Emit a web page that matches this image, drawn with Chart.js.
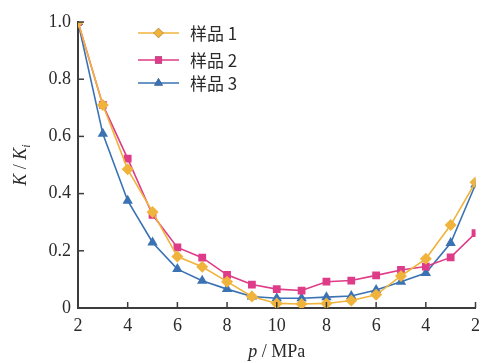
<!DOCTYPE html>
<html>
<head>
<meta charset="utf-8">
<script src="https://cdn.jsdelivr.net/npm/chart.js@4"></script>
<style>
  html, body { margin: 0; padding: 0; background: #fff; }
  #wrap { width: 487px; height: 363px; }
</style>
</head>
<body>
<div id="wrap"><canvas id="chart"></canvas></div>
<script>
// pressure path: up to 10 MPa then back down
const pressures = [2, 3, 4, 5, 6, 7, 8, 9, 10, 9, 8, 7, 6, 5, 4, 3, 2];
const sample1 = [1.0, 0.71, 0.485, 0.336, 0.18, 0.144, 0.092, 0.04, 0.016, 0.014, 0.016, 0.026, 0.046, 0.112, 0.172, 0.29, 0.44];
const sample2 = [1.0, 0.71, 0.522, 0.326, 0.212, 0.176, 0.116, 0.082, 0.066, 0.061, 0.092, 0.096, 0.114, 0.133, 0.145, 0.177, 0.262];
const sample3 = [1.0, 0.609, 0.375, 0.229, 0.136, 0.095, 0.066, 0.04, 0.034, 0.034, 0.038, 0.042, 0.063, 0.092, 0.122, 0.227, 0.432];
const seriesNames = ["样品 1", "样品 2", "样品 3"];
const yTicks = [0, 0.2, 0.4, 0.6, 0.8, 1.0];

const colors = ["#f0b43c", "#de3b88", "#3a72b3"];
const markers = ["rectRot", "rect", "triangle"];
const serif = "'Liberation Serif', 'DejaVu Serif', serif";
const axisColor = "#3c3c3c";
const textColor = "#2a2a2a";

const toPoints = (arr) => arr.map((v, i) => ({ x: i, y: v }));

const makeSet = (label, values, i) => ({
  label,
  data: toPoints(values),
  borderColor: colors[i],
  backgroundColor: colors[i],
  borderWidth: 1.6,
  pointStyle: markers[i],
  pointRadius: i === 1 ? 5.5 : 6,
  pointBorderWidth: 0,
  tension: 0,
});

// inward tick marks, axis titles and the legend
const decorations = {
  id: "decorations",
  afterDraw(chart) {
    const { ctx, chartArea: a, scales } = chart;
    ctx.save();
    ctx.strokeStyle = axisColor;
    ctx.lineWidth = 1.5;
    scales.x.ticks.forEach((t) => {
      const px = scales.x.getPixelForValue(t.value);
      ctx.beginPath();
      ctx.moveTo(px, a.bottom);
      ctx.lineTo(px, a.bottom - 6);
      ctx.stroke();
    });
    yTicks.forEach((v) => {
      const py = scales.y.getPixelForValue(v);
      ctx.beginPath();
      ctx.moveTo(a.left, py);
      ctx.lineTo(a.left + 6, py);
      ctx.stroke();
    });

    // x title: p / MPa
    ctx.fillStyle = textColor;
    ctx.textBaseline = "alphabetic";
    const xMid = (a.left + a.right) / 2;
    ctx.font = "italic 18px " + serif;
    const pW = ctx.measureText("p").width;
    ctx.font = "18px " + serif;
    const restW = ctx.measureText(" / MPa").width;
    let sx = xMid - (pW + restW) / 2;
    ctx.font = "italic 18px " + serif;
    ctx.fillText("p", sx, 357);
    ctx.font = "18px " + serif;
    ctx.fillText(" / MPa", sx + pW, 357);

    // y title: K / K_i (rotated)
    ctx.translate(26, (a.top + a.bottom) / 2);
    ctx.rotate(-Math.PI / 2);
    ctx.font = "italic 18px " + serif;
    const kW = ctx.measureText("K").width;
    ctx.font = "18px " + serif;
    const slW = ctx.measureText(" / ").width;
    ctx.font = "italic 12px " + serif;
    const iW = ctx.measureText("i").width;
    let yx = -(kW * 2 + slW + iW) / 2;
    ctx.font = "italic 18px " + serif;
    ctx.fillText("K", yx, 0);
    ctx.font = "18px " + serif;
    ctx.fillText(" / ", yx + kW, 0);
    ctx.font = "italic 18px " + serif;
    ctx.fillText("K", yx + kW + slW, 0);
    ctx.font = "italic 12px " + serif;
    ctx.fillText("i", yx + 2 * kW + slW, 4);
    ctx.restore();

    // legend
    ctx.save();
    const rows = [33, 60, 83];
    chart.data.datasets.forEach((ds, i) => {
      const y = rows[i];
      ctx.strokeStyle = colors[i];
      ctx.lineWidth = 1.6;
      ctx.beginPath();
      ctx.moveTo(138, y);
      ctx.lineTo(179, y);
      ctx.stroke();
      Chart.helpers.drawPoint(ctx, { pointStyle: markers[i], radius: 5, borderWidth: 0 }, 158.5, y);
      ctx.fillStyle = colors[i];
      ctx.fill();
      ctx.fillStyle = textColor;
      ctx.font = "17px 'Noto Sans CJK SC', sans-serif";
      ctx.textBaseline = "middle";
      ctx.fillText(ds.label, 190, y + 1);
    });
    ctx.restore();
  },
};

new Chart(document.getElementById("chart"), {
  type: "line",
  data: {
    datasets: [
      makeSet(seriesNames[0], sample1, 0),
      makeSet(seriesNames[1], sample2, 1),
      makeSet(seriesNames[2], sample3, 2),
    ],
  },
  options: {
    responsive: true,
    maintainAspectRatio: false,
    animation: false,
    layout: { padding: { left: 0, right: 8, top: 22, bottom: 0 } },
    plugins: { legend: { display: false }, tooltip: { enabled: false } },
    scales: {
      x: {
        type: "linear",
        min: 0,
        max: pressures.length - 1,
        afterFit: (s) => { s.height = 55; },
        afterBuildTicks: (s) => {
          s.ticks = pressures.map((p, i) => ({ value: i })).filter((t) => t.value % 2 === 0);
        },
        grid: { display: true, drawOnChartArea: false, drawTicks: false },
        border: { display: true, color: axisColor, width: 2 },
        ticks: {
          padding: 7,
          color: textColor,
          font: { family: serif, size: 18 },
          maxRotation: 0,
          callback: (v) => pressures[v],
        },
      },
      y: {
        min: 0,
        max: 1.0,
        afterFit: (s) => { s.width = 78; },
        afterBuildTicks: (s) => { s.ticks = yTicks.map((v) => ({ value: v })); },
        grid: { display: true, drawOnChartArea: false, drawTicks: false },
        border: { display: true, color: axisColor, width: 2 },
        ticks: {
          padding: 7,
          color: textColor,
          font: { family: serif, size: 18 },
          callback: (v) => (v === 0 ? "0" : v.toFixed(1)),
        },
      },
    },
  },
  plugins: [decorations],
});
</script>
</body>
</html>
